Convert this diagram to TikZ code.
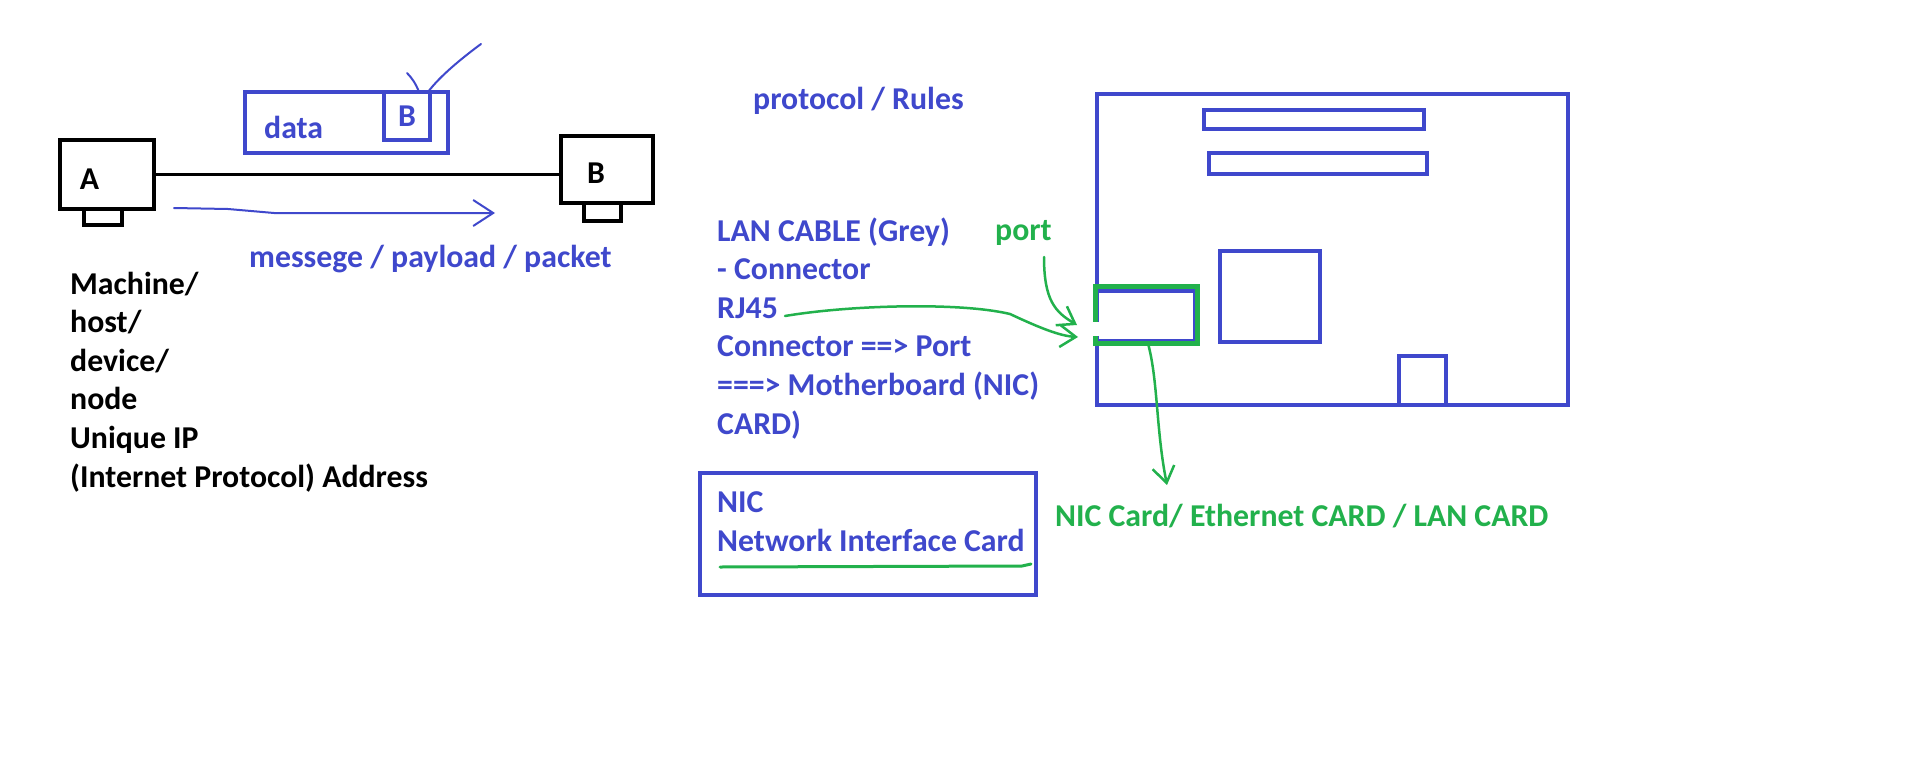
\documentclass[tikz,border=0pt]{standalone}
\usepackage{fontspec}
\setmainfont{Carlito}
\usetikzlibrary{arrows.meta,positioning}
\definecolor{penblue}{HTML}{3F48CC}
\definecolor{pengreen}{HTML}{22B14C}

\begin{document}
\begin{tikzpicture}[
    x=1pt, y=-1pt,
    hostbox/.style={draw=black, line width=4pt, outer sep=0pt, inner sep=0pt, minimum width=94pt, minimum height=69pt},
    hoststand/.style={draw=black, line width=4pt, outer sep=0pt, inner sep=0pt, minimum width=38pt, minimum height=16pt},
    bluebox/.style={draw=penblue, line width=4pt, outer sep=0pt, inner sep=0pt},
    txt/.style={font=\bfseries\fontsize{31.8}{38.6}\selectfont, inner sep=0pt, align=left, anchor=base west},
    blktxt/.style={txt, text=black},
    bluetxt/.style={txt, text=penblue},
    greentxt/.style={txt, text=pengreen},
    bluepen/.style={draw=penblue, line width=2pt, line cap=round, line join=round},
    greenpen/.style={draw=pengreen, line width=2.5pt, line cap=round, line join=round},
    barb/.style={-{Straight Barb[length=20pt, width=26pt]}},
    smallbarb/.style={-{Straight Barb[length=16pt, width=22pt]}}
]
\useasboundingbox[fill=white] (0,0) rectangle (1914,763);

% Hosts and cable
\node[hostbox] (hostA) at (107,174.5) {};
\node[hoststand, below=0pt of hostA, xshift=-4pt] (standA) {};
\node[hostbox, minimum width=92pt, minimum height=67pt] (hostB) at (607,169.5) {};
\node[hoststand, minimum width=37pt, minimum height=18pt, below=0pt of hostB, xshift=-4.5pt] (standB) {};
\node[blktxt, anchor=center] (nameA) at (89.5,179) {A};
\node[blktxt, anchor=center] (nameB) at (596,173.5) {B};
\draw[black, line width=3.5pt] (hostA.east) -- (hostA.east -| hostB.west);

% Packet with destination
\node[bluebox, minimum width=203pt, minimum height=61pt] (packet) at (346.5,122.5) {};
\node[bluebox, bluetxt, anchor=north east, minimum width=46pt, minimum height=48pt] (destB) at ([xshift=-18pt]packet.north east) {B};
\node[bluetxt] (datatext) at (264,138) {data};
\coordinate (penTop) at (481,44);
\coordinate (penTick) at (407,73);
\draw[bluepen] (penTop) .. controls (462,58) and (440,76) .. ([xshift=-2pt]destB.north east);
\draw[bluepen] (penTick) .. controls (412,78) and (416,84) .. ([xshift=12pt]destB.north);

% Message A -> B
\coordinate (msgStart) at (174,208);
\coordinate (msgEnd) at (495,213);
\draw[bluepen, barb] (msgStart) -- (228,209) -- (274,213) -- (msgEnd);
\node[bluetxt] (msgtext) at (249,267) {messege / payload / packet};

% multi-line texts sit on their last baseline
\node[blktxt] (hostnames) at (70,487) {Machine/\\host/\\device/\\node\\Unique IP\\(Internet Protocol) Address};

% Cable notes
\node[bluetxt] (rules) at (753,109) {protocol / Rules};
\node[bluetxt] (cable) at (717,434) {LAN CABLE (Grey)\\- Connector\\RJ45\\Connector ==> Port\\===> Motherboard (NIC)\\CARD)};
\node[greentxt] (porttext) at (995,240) {port};

% Motherboard
\node[bluebox, minimum width=471pt, minimum height=311pt] (board) at (1332.5,249.5) {};
\node[bluebox, minimum width=220pt, minimum height=19pt] (slotA) at (1314,119.5) {};
\node[bluebox, minimum width=218pt, minimum height=21pt] (slotB) at (1318,163.5) {};
\node[bluebox, minimum width=100pt, minimum height=91pt] (chip) at (1270,296.5) {};
\node[bluebox, minimum width=47pt, minimum height=49pt, anchor=south] (smallchip) at ([xshift=90pt]board.south) {};
\node[bluebox, minimum width=98pt, minimum height=50pt, anchor=west] (port) at ([yshift=-66.5pt]board.west) {};
\node[draw=pengreen, line width=5pt, outer sep=0pt, inner sep=0pt, minimum width=102pt, minimum height=57pt] (portmark) at (1146.5,315) {};
\fill[white] (1091,322) rectangle (1101,336);

% Green arrows
\coordinate (rjStart) at (785,316);
\coordinate (rjEnd) at (1078,337);
\draw[greenpen, smallbarb] (rjStart) .. controls (850,305) and (960,302) .. (1010,314) .. controls (1040,328) and (1060,336) .. (rjEnd);
\coordinate (portStart) at (1044,257);
\coordinate (portEnd) at (1077,325);
\draw[greenpen, smallbarb] (portStart) .. controls (1044,300) and (1055,312) .. (portEnd);
\coordinate (nicEnd) at (1167,485);
\draw[greenpen, smallbarb] ([xshift=1.5pt]portmark.south) .. controls (1158,380) and (1156,430) .. (nicEnd);

% NIC box
\node[bluebox, minimum width=336pt, minimum height=122pt] (nicbox) at (868,534) {};
\node[bluetxt] (nicname) at (717,551) {NIC\\Network Interface Card};
\coordinate (lineStart) at (720,567);
\coordinate (lineEnd) at (1031,564);
\draw[greenpen, line width=3pt] (lineStart) -- (1022,566) -- (lineEnd);
\node[greentxt] (cardnames) at (1055,526) {NIC Card/ Ethernet CARD / LAN CARD};

\end{tikzpicture}
\end{document}
